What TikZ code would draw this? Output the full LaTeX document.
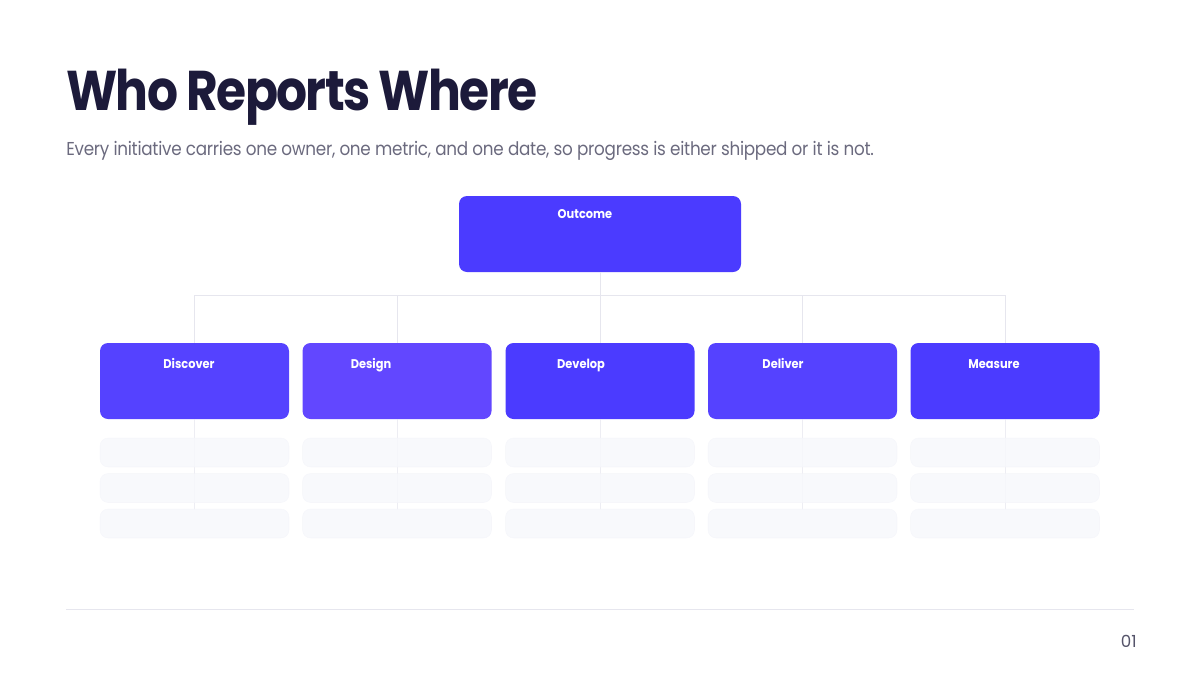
\documentclass[tikz,border=0pt]{standalone}
\usepackage{fontspec}
\setmainfont{Poppins}
\newfontfamily\titlefont[FakeStretch=0.87, LetterSpace=-3]{Poppins}
\newfontfamily\leadfont[FakeStretch=0.9, LetterSpace=-1.5]{Poppins}
\newfontfamily\labelfont[FakeStretch=0.9]{Poppins}
\definecolor{ink}{HTML}{1C1A3A}
\definecolor{muted}{HTML}{6B6A7E}
\definecolor{pagegray}{HTML}{55546A}
\definecolor{violet}{HTML}{4B3BFF}
\definecolor{violetA}{HTML}{5542FF}
\definecolor{violetB}{HTML}{6247FF}
\definecolor{rule}{HTML}{E6E6EE}
\definecolor{ghost}{HTML}{F7F8FC}
\begin{document}
\begin{tikzpicture}[x=0.75pt, y=-0.75pt,
    box/.style={rectangle, rounded corners=6pt, minimum width=141.75pt, minimum height=57pt, inner sep=0pt},
    boxlabel/.style={text=white, font=\labelfont\fontsize{9.5}{12}\selectfont\bfseries, anchor=base},
    ghostrow/.style={rectangle, rounded corners=6pt, minimum width=141.75pt, minimum height=21.75pt, inner sep=0pt, fill=ghost, draw=ghost!70!rule, fill opacity=0.85, draw opacity=0.5},
    link/.style={draw=rule, line width=0.75pt}]
    \useasboundingbox (0,0) rectangle (1200,675);
    % \draw (0,0) grid (1200,675);
    \node [anchor=base west, text=ink, font=\titlefont\fontsize{42}{48}\selectfont\bfseries, inner sep=0pt, name=title] at (66,110) {Who Reports Where};
    \node [anchor=base west, text=muted, font=\leadfont\fontsize{14}{18}\selectfont, inner sep=0pt, name=subtitle] at (66,155) {Every initiative carries one owner, one metric, and one date, so progress is either shipped or it is not.};
    % top of the tree
    \node [box, fill=violet, minimum width=211.5pt, name=outcome] at (600,234) {};
    \node [boxlabel] at (585,218) {Outcome};
    \coordinate (bus) at (600,295);
    % second level
    \node [box, fill=violetA, name=discover] at (194.5,381) {};
    \node [box, fill=violetB, name=design] at (397,381) {};
    \node [box, fill=violet, name=develop] at (600,381) {};
    \node [box, fill=violetA, name=deliver] at (802.5,381) {};
    \node [box, fill=violet, name=measure] at (1005,381) {};
    \node [boxlabel] at (189,368) {Discover};
    \node [boxlabel] at (371,368) {Design};
    \node [boxlabel] at (581,368) {Develop};
    \node [boxlabel] at (783,368) {Deliver};
    \node [boxlabel] at (994,368) {Measure};
    \draw [link] (outcome) -- (bus);
    \draw [link] (discover) |- (bus);
    \draw [link] (design) |- (bus);
    \draw [link] (develop) -- (bus);
    \draw [link] (deliver) |- (bus);
    \draw [link] (measure) |- (bus);
    % placeholder rows
    \foreach \col/\x in {discover/194.5, design/397, develop/600, deliver/802.5, measure/1005} {
        \coordinate (\col_end) at (\x,510);
        \draw [link, draw opacity=0.7] (\col.south) -- (\col_end);
        \node [ghostrow, name=\col_r1] at (\x,452.5) {};
        \node [ghostrow, name=\col_r2] at (\x,488) {};
        \node [ghostrow, name=\col_r3] at (\x,523.5) {};
    }
    % footer
    \draw [rule, line width=0.75pt] (66,609) -- (1134,609);
    \node [anchor=base east, text=pagegray, font=\fontsize{12.5}{14}\selectfont, inner sep=0pt, name=pageno] at (1137,647) {01};
\end{tikzpicture}
\end{document}
